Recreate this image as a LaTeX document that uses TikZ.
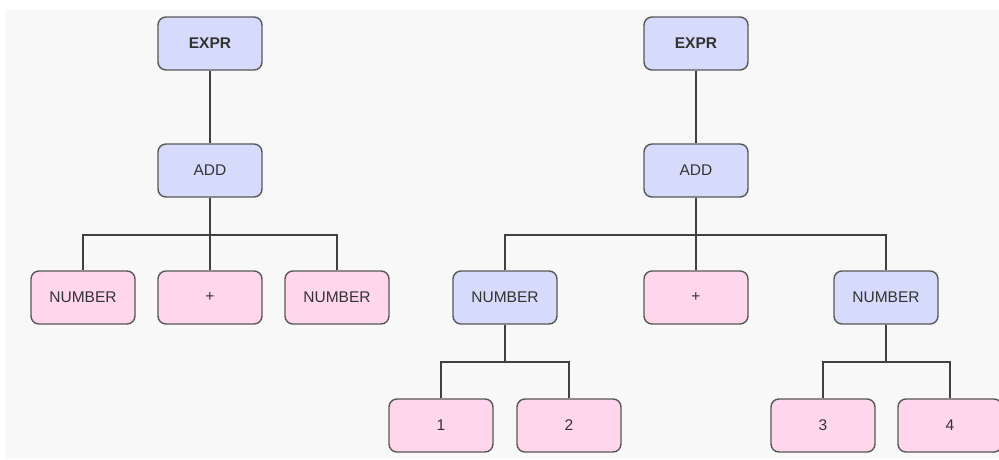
\documentclass[tikz,border=0pt]{standalone}
\usepackage{fontspec}
\setmainfont{Liberation Sans}
\usepackage{tikz}

\definecolor{boxblue}{RGB}{214,219,252}
\definecolor{boxpink}{RGB}{255,214,236}
\definecolor{boxline}{RGB}{88,88,88}
\definecolor{wireline}{RGB}{64,64,64}
\definecolor{paper}{RGB}{248,248,248}

\begin{document}
\begin{tikzpicture}[x=1pt,y=-1pt]
  \tikzset{RuleStyle/.style = {
    shape          = rectangle,
    rounded corners = 8pt,
    draw           = boxline,
    fill           = boxblue,
    line width     = 1.4pt,
    text           = black!80,
    font           = \fontsize{15.5}{17}\selectfont,
    inner sep      = 1pt,
    minimum width  = 104pt,
    minimum height = 53pt
    }
  }
  \tikzset{TokenStyle/.style = {
    RuleStyle,
    fill           = boxpink
    }
  }
  \tikzset{EdgeStyle/.style = {
    draw           = wireline,
    line width     = 1.8pt,
    to path        = {-- ++(0,37) -| (\tikztotarget)}
    }
  }

  \useasboundingbox (0,0) rectangle (999,459);
  \fill[white] (0,0) rectangle (999,459);
  \fill[paper] (6,10) rectangle (999,459);

  % first tree
  \node[RuleStyle](EL) at (210, 43.5) {\textbf{EXPR}};
  \node[RuleStyle](AL) at (210, 170.5) {ADD};
  \node[TokenStyle](NL1) at (83, 297.5) {NUMBER};
  \node[TokenStyle](PL) at (210, 297.5) {+};
  \node[TokenStyle](NL2) at (337, 297.5) {NUMBER};

  % second tree
  \node[RuleStyle](ER) at (696, 43.5) {\textbf{EXPR}};
  \node[RuleStyle](AR) at (696, 170.5) {ADD};
  \node[RuleStyle](NR1) at (505, 297.5) {NUMBER};
  \node[TokenStyle](PR) at (696, 297.5) {+};
  \node[RuleStyle](NR2) at (886, 297.5) {NUMBER};
  \node[TokenStyle](D1) at (441, 425.5) {1};
  \node[TokenStyle](D2) at (569, 425.5) {2};
  \node[TokenStyle](D3) at (823, 425.5) {3};
  \node[TokenStyle](D4) at (950, 425.5) {4};

  \draw[EdgeStyle](EL.south) to (AL.north);
  \draw[EdgeStyle](AL.south) to (NL1.north);
  \draw[EdgeStyle](AL.south) to (PL.north);
  \draw[EdgeStyle](AL.south) to (NL2.north);

  \draw[EdgeStyle](ER.south) to (AR.north);
  \draw[EdgeStyle](AR.south) to (NR1.north);
  \draw[EdgeStyle](AR.south) to (PR.north);
  \draw[EdgeStyle](AR.south) to (NR2.north);
  \draw[EdgeStyle](NR1.south) to (D1.north);
  \draw[EdgeStyle](NR1.south) to (D2.north);
  \draw[EdgeStyle](NR2.south) to (D3.north);
  \draw[EdgeStyle](NR2.south) to (D4.north);

\end{tikzpicture}
\end{document}
